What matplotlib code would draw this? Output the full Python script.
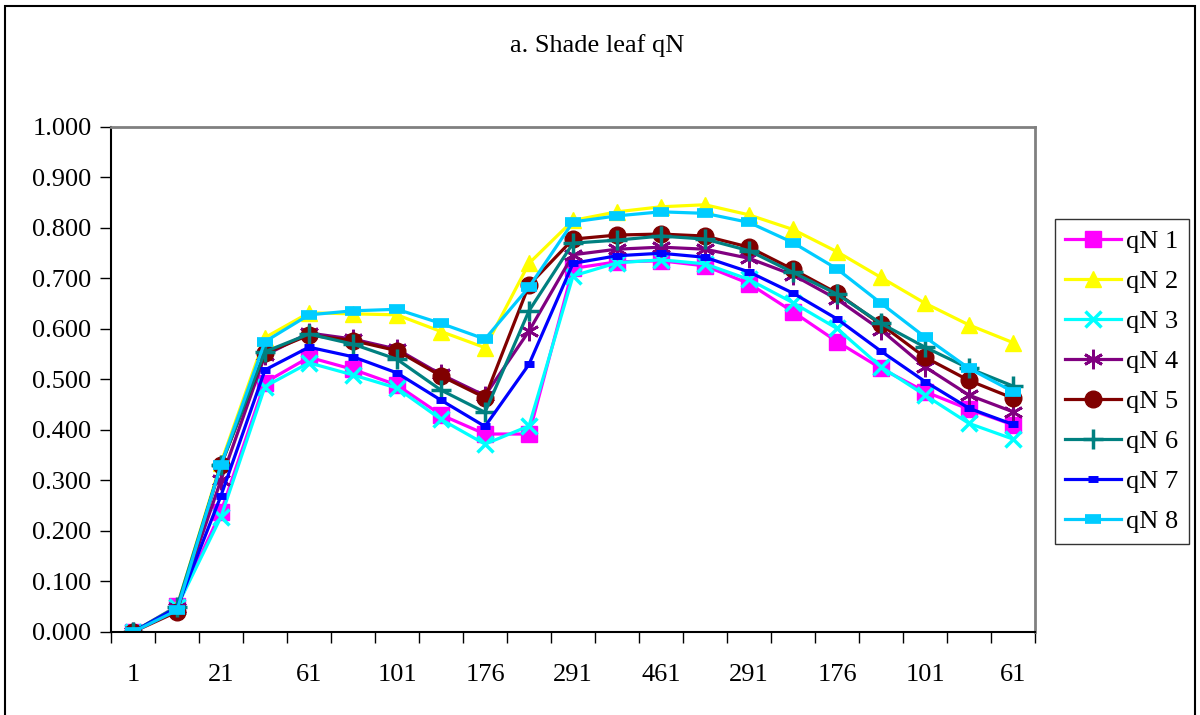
import numpy as np
import matplotlib; matplotlib.use("Agg")
import matplotlib.pyplot as plt
from matplotlib.patches import Rectangle

plt.rcParams.update({"font.family": ["Liberation Serif", "DejaVu Serif"], "font.size": 19})

# shown tick labels (every other category)
x_labels = ["1", "21", "61", "101", "176", "291", "461", "291", "176", "101", "61"]
n_cat = 21

qN1 = [0.000, 0.051, 0.238, 0.494, 0.544, 0.520, 0.489, 0.430, 0.392, 0.392, 0.720,
       0.733, 0.735, 0.725, 0.690, 0.634, 0.575, 0.522, 0.476, 0.441, 0.410]
qN2 = [0.000, 0.050, 0.335, 0.583, 0.632, 0.630, 0.628, 0.595, 0.563, 0.730, 0.815,
       0.832, 0.842, 0.846, 0.826, 0.797, 0.753, 0.702, 0.651, 0.608, 0.573]
qN3 = [0.000, 0.050, 0.228, 0.486, 0.533, 0.509, 0.483, 0.421, 0.372, 0.408, 0.705,
       0.731, 0.737, 0.729, 0.698, 0.652, 0.601, 0.525, 0.469, 0.413, 0.382]
qN4 = [0.000, 0.048, 0.301, 0.548, 0.592, 0.580, 0.560, 0.510, 0.468, 0.596, 0.747,
       0.758, 0.762, 0.758, 0.740, 0.707, 0.659, 0.598, 0.525, 0.469, 0.436]
qN5 = [0.000, 0.040, 0.331, 0.552, 0.588, 0.577, 0.557, 0.507, 0.464, 0.687, 0.778,
       0.786, 0.788, 0.784, 0.762, 0.718, 0.671, 0.609, 0.544, 0.498, 0.463]
qN6 = [0.000, 0.050, 0.331, 0.555, 0.590, 0.570, 0.540, 0.479, 0.435, 0.636, 0.770,
       0.776, 0.784, 0.778, 0.755, 0.712, 0.669, 0.611, 0.564, 0.522, 0.487]
qN7 = [0.000, 0.048, 0.270, 0.519, 0.564, 0.545, 0.513, 0.459, 0.407, 0.530, 0.730,
       0.745, 0.750, 0.742, 0.713, 0.671, 0.620, 0.556, 0.496, 0.443, 0.411]
qN8 = [0.000, 0.043, 0.331, 0.575, 0.628, 0.636, 0.639, 0.611, 0.580, 0.683, 0.812,
       0.824, 0.832, 0.829, 0.811, 0.771, 0.719, 0.651, 0.584, 0.522, 0.476]

series = [("qN 1", qN1, "#FF00FF", "s", 11, 1),
          ("qN 2", qN2, "#FFFF00", "^", 12, 1),
          ("qN 3", qN3, "#00FFFF", "x", 12, 2.5),
          ("qN 4", qN4, "#800080", (6, 2, 0), 14, 2),
          ("qN 5", qN5, "#800000", "o", 12, 1),
          ("qN 6", qN6, "#008080", "+", 14, 2.5),
          ("qN 7", qN7, "#0000FF", "_", 7, 5),
          ("qN 8", qN8, "#00CCFF", "_", 12, 7)]

fig = plt.figure(figsize=(12, 7.15), dpi=100)
ax = fig.add_axes([0.0925, 0.1161, 0.77, 0.7063])
x = np.arange(n_cat)
for name, vals, col, mk, ms, mew in series:
    ax.plot(x, vals, color=col, lw=2.3, marker=mk, ms=ms, mfc=col, mec=col, mew=mew, label=name)

ax.set_xlim(-0.5, n_cat - 0.5)
ax.set_ylim(0, 1.0)
ax.set_yticks(np.arange(0, 1.01, 0.1))
ax.set_yticklabels([f"{v:.3f}" for v in np.arange(0, 1.01, 0.1)])
ax.set_xticks(np.arange(-0.5, n_cat, 1.0))
ax.set_xticklabels([])
ax.set_xticks(np.arange(0, n_cat, 2), minor=True)
ax.set_xticklabels(x_labels, minor=True)
ax.tick_params(axis="x", which="major", direction="out", length=8, width=1)
ax.tick_params(axis="x", which="minor", length=0, pad=23)
ax.tick_params(axis="y", direction="out", length=8, width=1, pad=6)
for s in ("top", "right"):
    ax.spines[s].set_color("#808080"); ax.spines[s].set_linewidth(2)
for s in ("left", "bottom"):
    ax.spines[s].set_color("black"); ax.spines[s].set_linewidth(1.5)

fig.text(0.498, 0.937, "a. Shade leaf qN", ha="center", va="center", fontsize=19)

leg = ax.legend(loc="upper left", bbox_to_anchor=(0.879, 0.694), bbox_transform=fig.transFigure,
                frameon=True, fancybox=False, edgecolor="black", fontsize=19,
                handlelength=2.1, labelspacing=0.63, borderpad=0.4, handletextpad=0.2,
                borderaxespad=0)
leg.get_frame().set_linewidth(1)

fig.patches.append(Rectangle((5/1200, -0.01), 1190/1200, 1 - 6/715 + 0.01, transform=fig.transFigure,
                             fill=False, edgecolor="black", lw=1.5))

fig.savefig("out.png", dpi=100)
